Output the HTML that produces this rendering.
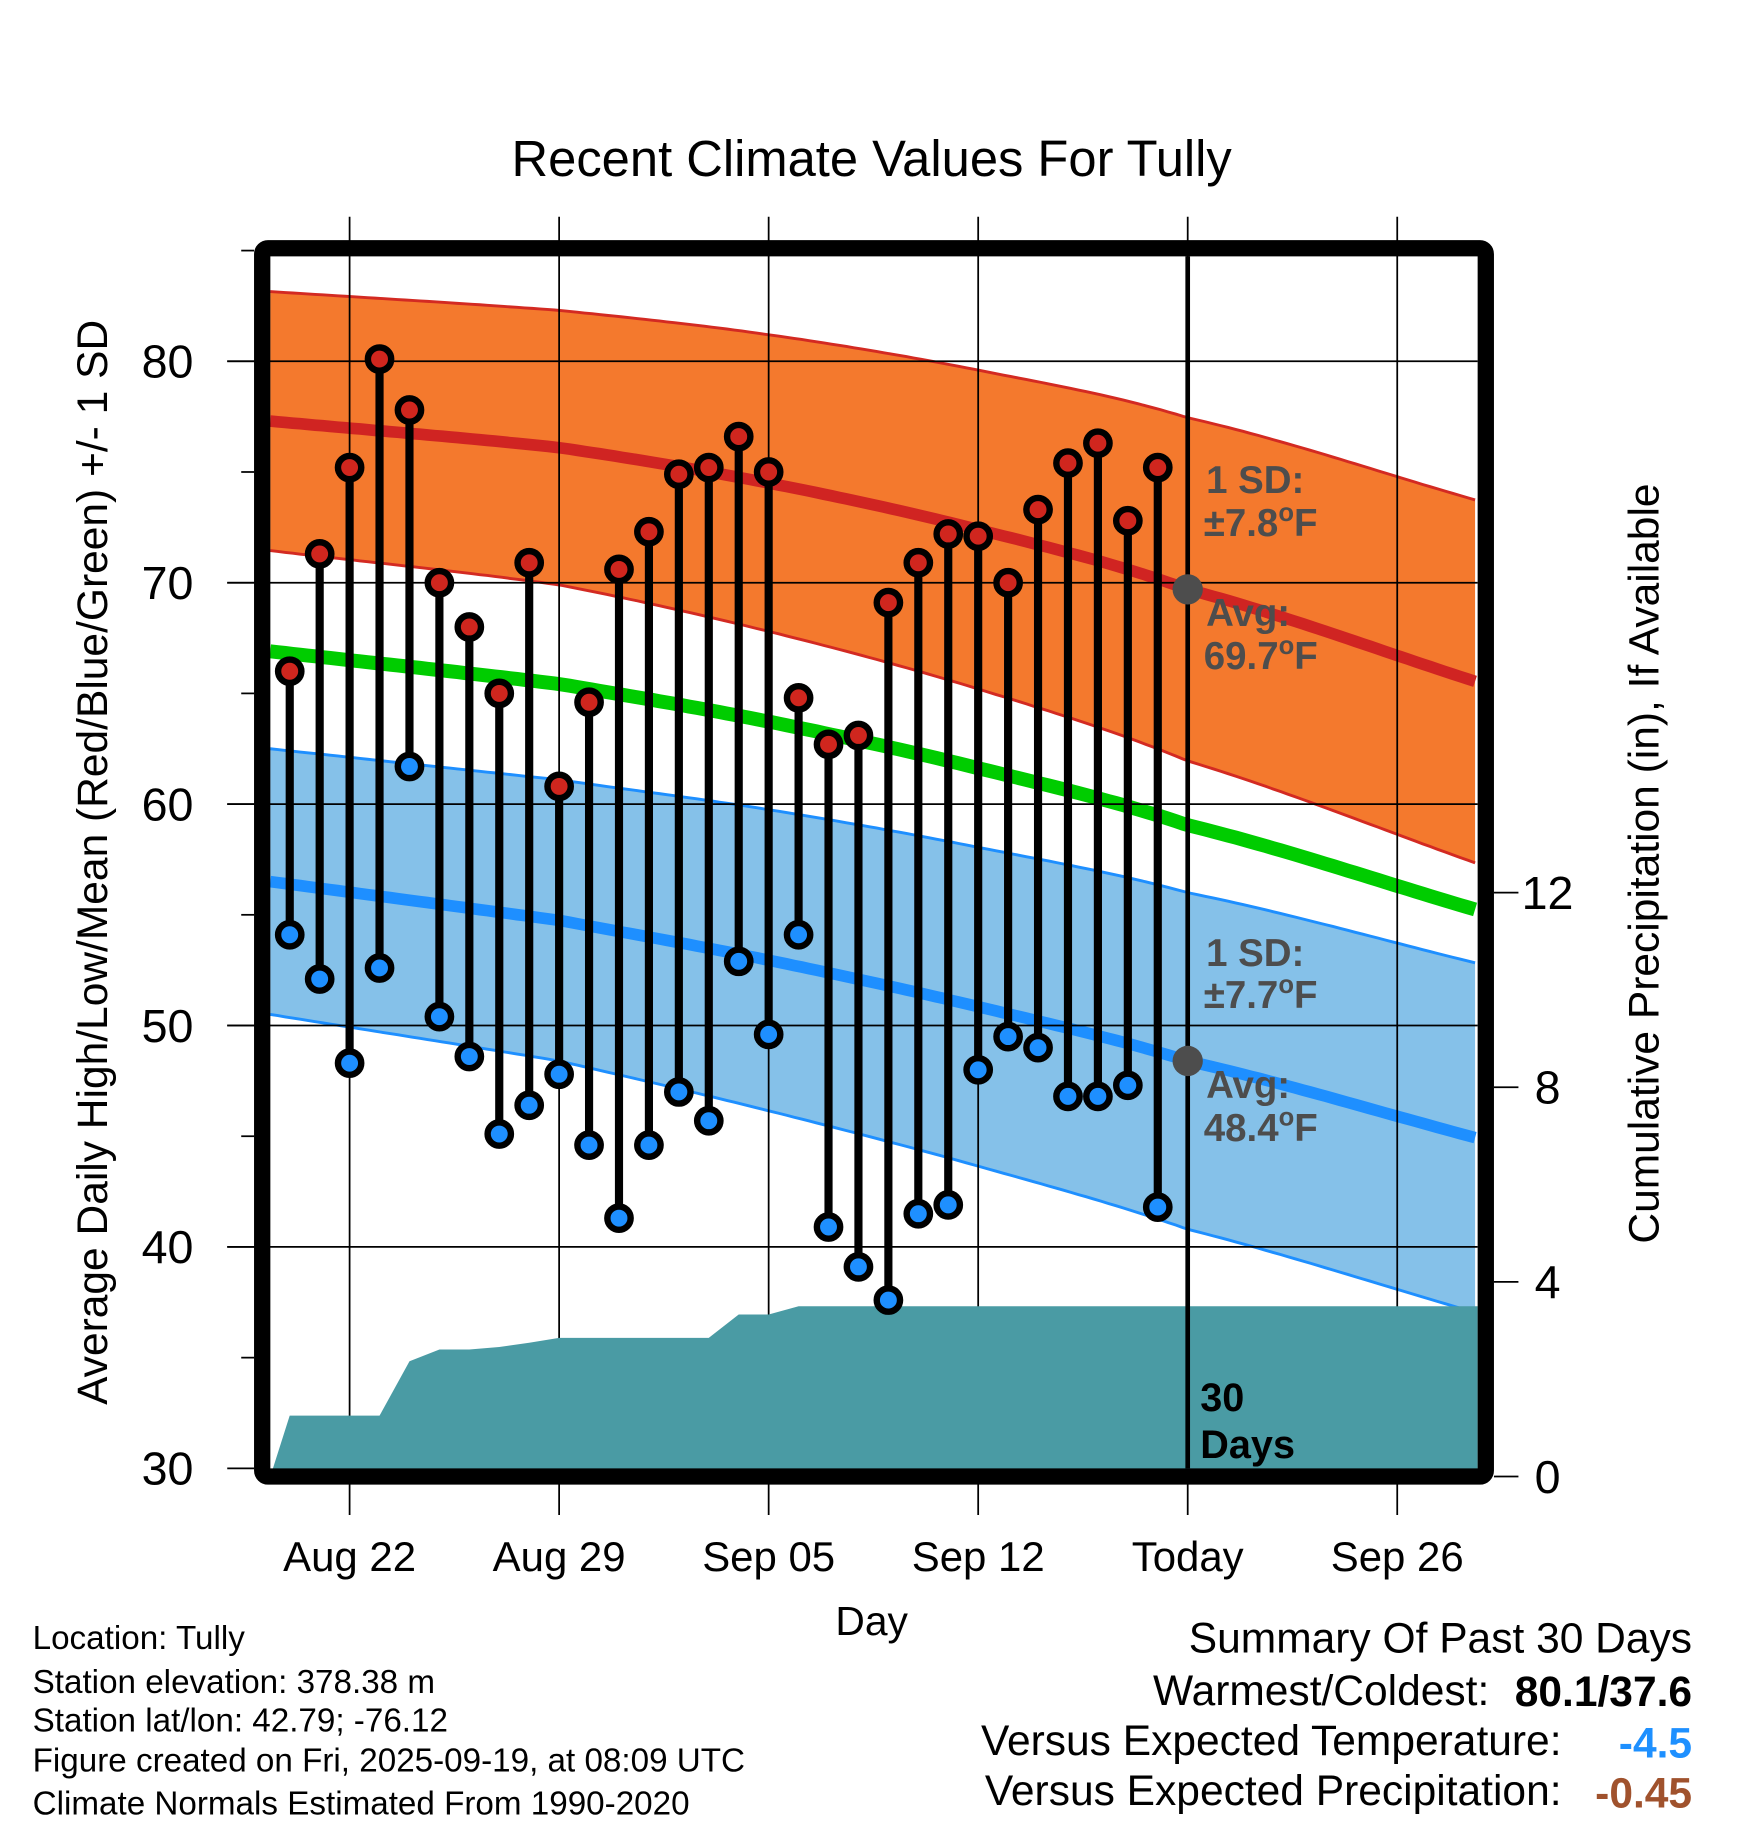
<!DOCTYPE html>
<html><head><meta charset="utf-8"><title>Recent Climate Values For Tully</title>
<style>html,body{margin:0;padding:0;background:#fff}svg{display:block}text{font-family:"Liberation Sans",Arial,sans-serif}</style>
</head><body>
<svg id="chart" width="1748" height="1828" viewBox="0 0 1500 1568.6" xmlns="http://www.w3.org/2000/svg">
<text x="748" y="151" font-size="43.5" text-anchor="middle">Recent Climate Values For Tully</text>
<g id="bands"></g>
<g id="grid"></g>
<g id="precip"></g>
<g id="marks"></g>
<g id="axes"></g>
<g id="ann"></g>
<text x="748" y="1403" font-size="35" text-anchor="middle">Day</text>
<text transform="translate(92,740) rotate(-90)" font-size="36.5" text-anchor="middle">Average Daily High/Low/Mean (Red/Blue/Green) +/- 1 SD</text>
<text transform="translate(1423,741) rotate(-90)" font-size="36.5" text-anchor="middle">Cumulative Precipitation (in), If Available</text>
<g font-size="28.5">
<text x="28" y="1415">Location: Tully</text>
<text x="28" y="1453">Station elevation: 378.38 m</text>
<text x="28" y="1486">Station lat/lon: 42.79; -76.12</text>
<text x="28" y="1520">Figure created on Fri, 2025-09-19, at 08:09 UTC</text>
<text x="28" y="1557">Climate Normals Estimated From 1990-2020</text>
</g>
<g font-size="36.5" text-anchor="end">
<text x="1452" y="1418">Summary Of Past 30 Days</text>
<text x="1278" y="1463">Warmest/Coldest:</text>
<text x="1452" y="1464" font-weight="bold">80.1/37.6</text>
<text x="1340" y="1506">Versus Expected Temperature:</text>
<text x="1452" y="1508" font-weight="bold" fill="#1e90ff">-4.5</text>
<text x="1340" y="1549">Versus Expected Precipitation:</text>
<text x="1452" y="1551" font-weight="bold" fill="#a0522d">-0.45</text>
</g>
</svg>
<script>
const NS='http://www.w3.org/2000/svg';
// ---- data ----
const days=[-2,-1,0,1,2,3,4,5,6,7,8,9,10,11,12,13,14,15,16,17,18,19,20,21,22,23,24,25,26,27];
const highs=[66.0,71.3,75.2,80.1,77.8,70.0,68.0,65.0,70.9,60.8,64.6,70.6,72.3,74.9,75.2,76.6,75.0,64.8,62.7,63.1,69.1,70.9,72.2,72.1,70.0,73.3,75.4,76.3,72.8,75.2];
const lows=[54.1,52.1,48.3,52.6,61.7,50.4,48.6,45.1,46.4,47.8,44.6,41.3,44.6,47.0,45.7,52.9,49.6,54.1,40.9,39.1,37.6,41.5,41.9,48.0,49.5,49.0,46.8,46.8,47.3,41.8];
const precipDays=[-3,-2,-1,0,1,2,3,4,5,6,7,8,9,10,11,12,13,14,15,27];
const precipCum=[0,1.25,1.25,1.25,1.25,2.37,2.61,2.61,2.66,2.75,2.85,2.85,2.85,2.85,2.85,2.85,3.33,3.33,3.50,3.50];
const normDays=[-2.65,7,14,21,28,37.7];
const highMean=[77.3,76.1,74.5,72.4,69.7,65.5];
const highSD=[5.85,6.2,6.7,7.2,7.75,8.2];
const lowMean=[56.5,54.75,52.95,50.85,48.4,44.9];
const lowSD=[6.0,6.35,6.8,7.2,7.6,7.9];
const yTicks=[30,40,50,60,70,80];
const yMinor=[35,45,55,65,75,85];
const pTicks=[0,4,8,12];
const xTickDays=[0,7,14,21,28,35];
const xTickLabels=['Aug 22','Aug 29','Sep 05','Sep 12','Today','Sep 26'];
const todayDay=28;
// ---- scales ----
const X0=232,X1=1268,Y0=220,Y1=1260;
const xs=d=>300+d*179.8/7;
const ys=v=>1260-(v-30)*19;
const ps=p=>1267-p*167/4;
function el(t,a,p){const e=document.createElementNS(NS,t);for(const k in a)e.setAttribute(k,a[k]);(p||document.getElementById('chart')).appendChild(e);return e;}
function interp(xsA,vs,d){ // catmull-rom
  let i=0;while(i<xsA.length-2&&d>xsA[i+1])i++;
  const t=(d-xsA[i])/(xsA[i+1]-xsA[i]);
  const p0=i>0?vs[i-1]:2*vs[0]-vs[1],p1=vs[i],p2=vs[i+1],p3=i+2<vs.length?vs[i+2]:2*vs[i+1]-vs[i];
  return 0.5*((2*p1)+(-p0+p2)*t+(2*p0-5*p1+4*p2-p3)*t*t+(-p0+3*p1-3*p2+p3)*t*t*t);
}
const dStart=normDays[0],dEnd=normDays[normDays.length-1];
function curve(f){const pts=[];for(let d=dStart;d<=dEnd+1e-6;d+=0.25){pts.push([xs(d),ys(f(d))]);}return pts;}
const hm=d=>interp(normDays,highMean,d),hs=d=>interp(normDays,highSD,d);
const lm=d=>interp(normDays,lowMean,d),ls=d=>interp(normDays,lowSD,d);
const ptsStr=p=>p.map(q=>q[0].toFixed(1)+','+q[1].toFixed(1)).join(' ');
const bands=document.getElementById('bands');
function band(up,lo,fill,stroke,name){
  const u=curve(up),l=curve(lo);
  const b=el('polygon',{points:ptsStr(u.concat(l.slice().reverse())),fill:fill},bands);
  
  
  el('polyline',{points:ptsStr(u),fill:'none',stroke:stroke,'stroke-width':2.5},bands);
  el('polyline',{points:ptsStr(l),fill:'none',stroke:stroke,'stroke-width':2.5},bands);
}
band(d=>hm(d)+hs(d),d=>hm(d)-hs(d),'#f4792d','#d32a22','high-sd-band');
band(d=>lm(d)+ls(d),d=>lm(d)-ls(d),'#85c1e9','#1e8fff','low-sd-band');
let ln=el('polyline',{points:ptsStr(curve(hm)),fill:'none',stroke:'#d02422','stroke-width':10},bands);


ln=el('polyline',{points:ptsStr(curve(lm)),fill:'none',stroke:'#1e8fff','stroke-width':10},bands);


ln=el('polyline',{points:ptsStr(curve(d=>(hm(d)+lm(d))/2)),fill:'none',stroke:'#00cc00','stroke-width':12},bands);


// grid
const grid=document.getElementById('grid');
xTickDays.forEach(d=>{const g=el('line',{x1:xs(d),x2:xs(d),y1:186,y2:1300,stroke:'#000','stroke-width':1.5},grid);

});
yTicks.forEach(v=>{if(v>30){const g=el('line',{x1:195,x2:X1,y1:ys(v),y2:ys(v),stroke:'#000','stroke-width':1.5},grid);

}});
// precip area
const pg=document.getElementById('precip');
const pp=[];precipDays.forEach((d,i)=>pp.push([Math.max(xs(d),X0),ps(precipCum[i])]));
pp.push([X1,ps(precipCum[precipCum.length-1])]);
const pa=el('polygon',{points:ptsStr(pp.concat([[X1,1262],[X0,1262]])),fill:'#4a9ba4'},pg);


// today line
const tl=el('line',{x1:xs(todayDay),x2:xs(todayDay),y1:Y0,y2:Y1,stroke:'#000','stroke-width':4},pg);


// stems + markers
const mk=document.getElementById('marks');
days.forEach((d,i)=>{const s=el('line',{x1:xs(d),x2:xs(d),y1:ys(highs[i]),y2:ys(lows[i]),stroke:'#000','stroke-width':7},mk);

});
days.forEach((d,i)=>{
  const h=el('circle',{cx:xs(d),cy:ys(highs[i]),r:10,fill:'#d0261e',stroke:'#000','stroke-width':5.5},mk);
  
  
  const l=el('circle',{cx:xs(d),cy:ys(lows[i]),r:10,fill:'#1e8fff',stroke:'#000','stroke-width':5.5},mk);
  
  
});
// frame and axes
const ax=document.getElementById('axes');
const fr=el('rect',{x:225,y:213,width:1050,height:1054,rx:5,fill:'none',stroke:'#000','stroke-width':14},ax);


yTicks.forEach(v=>{el('line',{x1:195,x2:218,y1:ys(v),y2:ys(v),stroke:'#000','stroke-width':1.5},ax);
const t=el('text',{x:166,y:ys(v)+14,'font-size':40,'text-anchor':'end'},ax);t.textContent=v;

});
yMinor.forEach(v=>el('line',{x1:207,x2:218,y1:ys(v),y2:ys(v),stroke:'#000','stroke-width':1.5},ax));
pTicks.forEach(p=>{el('line',{x1:1282,x2:1303,y1:ps(p),y2:ps(p),stroke:'#000','stroke-width':1.5},ax);
const t=el('text',{x:1328,y:ps(p)+14,'font-size':40,'text-anchor':'middle'},ax);t.textContent=p;

});
xTickDays.forEach((d,i)=>{const t=el('text',{x:xs(d),y:1348,'font-size':36,'text-anchor':'middle'},ax);t.textContent=xTickLabels[i];

});
// annotations
const an=document.getElementById('ann');
[[ys(hm(todayDay)),'high'],[ys(lm(todayDay)),'low']].forEach(a=>{const c=el('circle',{cx:xs(todayDay),cy:a[0],r:13,fill:'#4d4d4d'},an);

});
function txt(x,y,s,fs,fill,name){const t=el('text',{x:x,y:y,'font-size':fs,'font-weight':'bold',fill:fill},an);t.innerHTML=s;

}
const deg='<tspan dy="-13" font-size="22">o</tspan><tspan dy="13">F</tspan>';
txt(1035,423,'1 SD:',33,'#4d4d4d','high-sd-label');
txt(1033,460,'±7.8'+deg,33,'#4d4d4d','high-sd-value');
txt(1035,537,'Avg:',33,'#4d4d4d','high-avg-label');
txt(1033,574,'69.7'+deg,33,'#4d4d4d','high-avg-value');
txt(1035,829,'1 SD:',33,'#4d4d4d','low-sd-label');
txt(1033,865,'±7.7'+deg,33,'#4d4d4d','low-sd-value');
txt(1035,942,'Avg:',33,'#4d4d4d','low-avg-label');
txt(1033,979,'48.4'+deg,33,'#4d4d4d','low-avg-value');
txt(1030,1211,'30',34,'#000','days-count-label');
txt(1030,1251,'Days',34,'#000','days-label');
</script>
</body></html>
